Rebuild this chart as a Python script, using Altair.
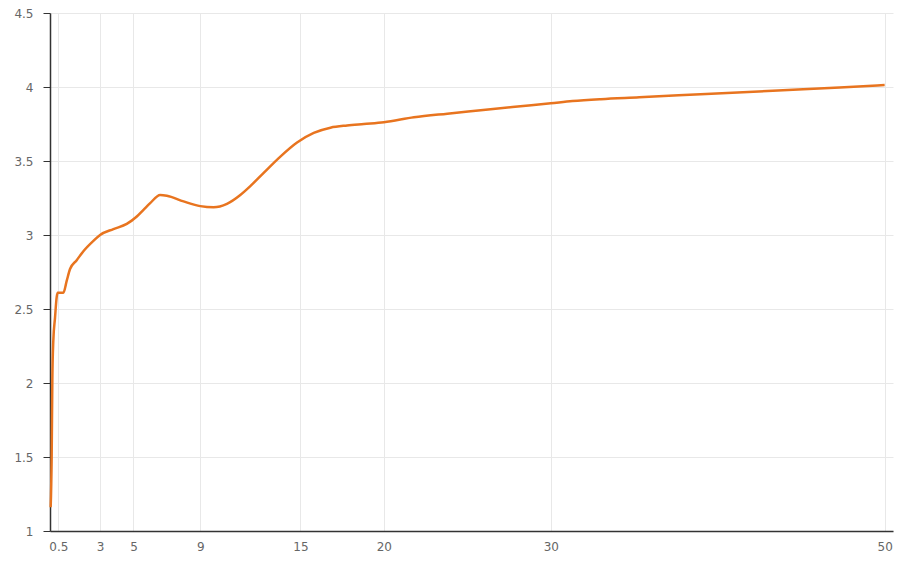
import altair as alt
import pandas as pd

tenor = [0.04, 0.1, 0.14, 0.2, 0.3, 0.4, 0.46, 0.6, 0.8, 1.0, 1.2, 1.6, 2.0, 2.6, 3.0,
         3.8, 4.6, 5.2, 5.6, 6.0, 6.6, 7.0, 8.0, 9.0, 9.8, 10.6, 11.4, 12.0, 12.8,
         13.8, 14.8, 15.8, 16.8, 17.8, 18.8, 20.0, 21.8, 23.8, 25.8, 27.7,
         30.0, 31.3, 33.0, 35.3, 39.3, 43.3, 47.3, 50.0]
yield_pct = [1.16, 1.5, 2.02, 2.29, 2.44, 2.58, 2.61, 2.61, 2.61, 2.69, 2.77, 2.83,
             2.89, 2.96, 3.0, 3.04, 3.075, 3.125, 3.17, 3.215, 3.27, 3.265, 3.227, 3.195,
             3.187, 3.21, 3.27, 3.33, 3.42, 3.53, 3.625, 3.69, 3.725, 3.74, 3.75,
             3.762, 3.795, 3.82, 3.843, 3.865, 3.89, 3.905, 3.918, 3.93, 3.953, 3.975,
             3.996, 4.013]
x_ticks = [0.5, 3, 5, 9, 15, 20, 30, 50]
y_ticks = [1, 1.5, 2, 2.5, 3, 3.5, 4, 4.5]

df = pd.DataFrame({"tenor": tenor, "yield": yield_pct})

chart = alt.Chart(df).mark_line(
    color="#e8741f", strokeWidth=2.5, interpolate="monotone"
).encode(
    x=alt.X("tenor:Q", title=None,
            scale=alt.Scale(domain=[0, 50.5], nice=False, zero=False),
            axis=alt.Axis(values=x_ticks, ticks=False, labelPadding=10, format="~g",
                          labelFlush=False, labelOverlap=False)),
    y=alt.Y("yield:Q", title=None,
            scale=alt.Scale(domain=[1, 4.5], nice=False, zero=False),
            axis=alt.Axis(values=y_ticks, tickSize=7, labelPadding=10, format="~g",
                          labelFlush=False, labelOverlap=False)),
).properties(
    width=843, height=518,
    autosize=alt.AutoSizeParams(type="none"),
    padding={"left": 42, "top": 5, "right": 7, "bottom": 23},
).configure_view(
    stroke=None
).configure_axis(
    domainColor="#333333", domainWidth=1.5,
    tickColor="#333333",
    gridColor="#e8e8e8", gridWidth=1,
    labelColor="#666666", labelFont="DejaVu Sans", labelFontSize=12,
)

chart.save("out.html", embed_options={"renderer": "svg", "actions": False})
